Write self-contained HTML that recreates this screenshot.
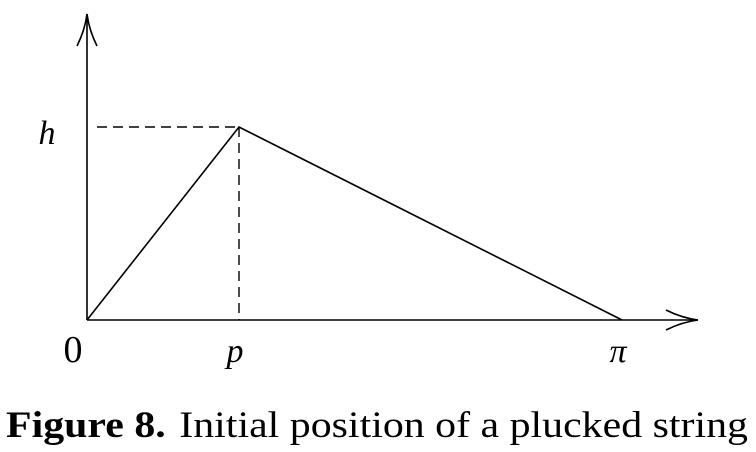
<!DOCTYPE html>
<html><head><meta charset="utf-8"><style>
html,body{margin:0;padding:0;background:#fff;width:756px;height:452px;overflow:hidden}
svg{display:block}
</style></head><body>
<svg width="756" height="452" viewBox="0 0 756 452">
<g id="plot"></g>
<text x="6" y="437" font-family="Liberation Serif, serif" font-size="37" fill="#000" textLength="742" lengthAdjust="spacingAndGlyphs"><tspan font-weight="bold">Figure 8.</tspan><tspan dx="12">Initial position of a plucked string</tspan></text>
</svg>
<script>
const xValues = [0, 1, 3.52];      // 0, p, pi (in units of p)
const yValues = [0, 1, 0];         // 0, h, 0
const xTickLabels = ["0", "p", "π"];
const yTickLabels = ["h"];

const X0 = 87, Y0 = 320, XS = (239 - 87), YS = (320 - 127);
const sx = v => X0 + v * XS;
const sy = v => Y0 - v * YS;
const NS = "http://www.w3.org/2000/svg";
const g = document.getElementById('plot');
function mk(tag, attrs){ const e=document.createElementNS(NS,tag); for(const k in attrs) e.setAttribute(k,attrs[k]); g.appendChild(e); return e; }

let ax = mk('line',{x1:X0,y1:Y0,x2:698,y2:Y0,stroke:'#000','stroke-width':1.6});


let ay = mk('line',{x1:X0,y1:Y0,x2:X0,y2:14,stroke:'#000','stroke-width':1.6});


let axh = mk('path',{d:'M666 310 Q682 318 698 320 Q682 322 666 330',fill:'none',stroke:'#000','stroke-width':1.6});


let ayh = mk('path',{d:'M77 46 Q85 30 87 14 Q89 30 97 46',fill:'none',stroke:'#000','stroke-width':1.6});



let dh = mk('line',{x1:97,y1:sy(yValues[1]),x2:sx(xValues[1]),y2:sy(yValues[1]),stroke:'#000','stroke-width':1.4,'stroke-dasharray':'10 6'});


let dv = mk('line',{x1:sx(xValues[1]),y1:sy(yValues[1]),x2:sx(xValues[1]),y2:Y0,stroke:'#000','stroke-width':1.4,'stroke-dasharray':'10 6'});



let pts = xValues.map((x,i)=>sx(x)+','+sy(yValues[i])).join(' ');
let pl = mk('polyline',{points:pts,fill:'none',stroke:'#000','stroke-width':1.6});



const fam = 'Liberation Serif, serif';
xTickLabels.forEach((t,i)=>{
  const italic = i>0;
  const e = mk('text',{x:sx(xValues[i]) + (i===0?-14:-4), y: i===0?362:362, 'font-family':fam,'font-size': i===0?38:34,'font-style':italic?'italic':'normal','text-anchor':'middle'});
  e.textContent = t;
  
  
});
yTickLabels.forEach(t=>{
  const e = mk('text',{x:47,y:sy(yValues[1])+17,'font-family':fam,'font-size':34,'font-style':'italic','text-anchor':'middle'});
  e.textContent = t;
  
  
});
</script>
</body></html>
